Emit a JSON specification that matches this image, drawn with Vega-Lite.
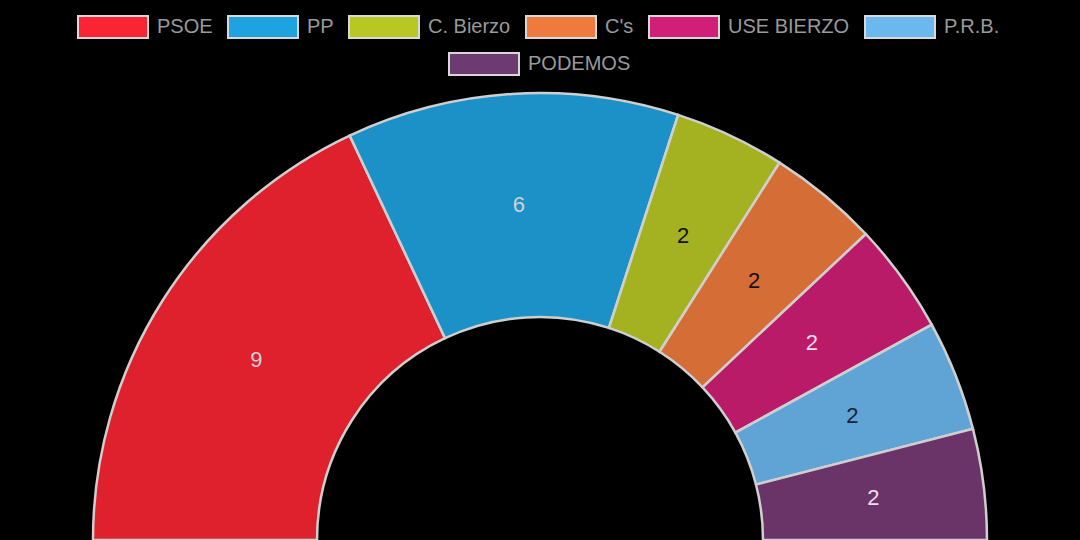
{
  "$schema": "https://vega.github.io/schema/vega-lite/v6.json",
  "width": 1080,
  "height": 540,
  "autosize": "none",
  "padding": 0,
  "background": "#000000",
  "config": {"view": {"stroke": null}},
  "data": {
    "values": [
      {"party": "PSOE", "seats": 9},
      {"party": "PP", "seats": 6},
      {"party": "C. Bierzo", "seats": 2},
      {"party": "C's", "seats": 2},
      {"party": "USE BIERZO", "seats": 2},
      {"party": "P.R.B.", "seats": 2},
      {"party": "PODEMOS", "seats": 2}
    ]
  },
  "transform": [{"window": [{"op": "row_number", "as": "idx"}]}],
  "encoding": {
    "theta": {"field": "seats", "type": "quantitative", "stack": true, "scale": {"range": [-1.5708, 1.5708]}},
    "order": {"field": "idx", "type": "quantitative"}
  },
  "layer": [
    {
      "mark": {"type": "arc", "radius": 447, "radius2": 223, "y": "height", "stroke": "#cfcfcf", "strokeWidth": 2.5, "fillOpacity": 0.89},
      "encoding": {
        "color": {
          "field": "party",
          "type": "nominal",
          "scale": {
            "domain": ["PSOE", "PP", "C. Bierzo", "C's", "USE BIERZO", "P.R.B.", "PODEMOS"],
            "range": ["#fb2432", "#1fa3e0", "#b8c724", "#ef7a3d", "#d11e76", "#6bb8ef", "#783a76"]
          },
          "legend": {
            "title": null,
            "orient": "none",
            "legendX": 77,
            "legendY": -9,
            "direction": "horizontal",
            "padding": 0,
            "values": ["PSOE", "PP", "C. Bierzo", "C's", "USE BIERZO", "P.R.B."],
            "symbolType": "M-1,-0.314H1V0.314H-1Z",
            "symbolSize": 4900,
            "symbolStrokeColor": "#d8d8d8",
            "symbolStrokeWidth": 2,
            "symbolOpacity": 1,
            "labelFont": "Liberation Sans",
            "labelFontSize": 20,
            "labelColor": "#9a9a9a",
            "labelOffset": 8,
            "columnPadding": 11,
            "encode": {
              "symbols": {
                "update": {
                  "fillOpacity": {"value": 1},
                  "stroke": {"value": "#d8d8d8"},
                  "strokeWidth": {"value": 2}
                }
              }
            }
          }
        }
      }
    },
    {
      "mark": {"type": "text", "radius": 336, "y": "height", "font": "Liberation Sans", "fontSize": 22, "strokeWidth": 0},
      "encoding": {
        "text": {"field": "seats", "type": "quantitative"},
        "color": {
          "field": "party",
          "type": "nominal",
          "scale": {
            "domain": ["PSOE", "PP", "C. Bierzo", "C's", "USE BIERZO", "P.R.B.", "PODEMOS"],
            "range": ["#d2d2d2", "#d2d2d2", "#111111", "#111111", "#f2dcec", "#16213a", "#f2dcec"]
          },
          "legend": null
        },
        "stroke": {
          "field": "party",
          "type": "nominal",
          "scale": {
            "domain": ["PODEMOS", "PSOE", "PP", "C. Bierzo", "C's", "USE BIERZO", "P.R.B."],
            "range": ["#d8d8d8", "#d8d8d8", "#d8d8d8", "#d8d8d8", "#d8d8d8", "#d8d8d8", "#d8d8d8"]
          },
          "legend": {
            "title": null,
            "orient": "none",
            "legendX": 448,
            "legendY": 28,
            "direction": "horizontal",
            "padding": 0,
            "values": ["PODEMOS"],
            "symbolType": "M-1,-0.314H1V0.314H-1Z",
            "symbolSize": 4900,
            "symbolFillColor": "#6e3a72",
            "symbolStrokeWidth": 2,
            "symbolOpacity": 1,
            "labelFont": "Liberation Sans",
            "labelFontSize": 20,
            "labelColor": "#9a9a9a",
            "labelOffset": 8,
            "encode": {
              "symbols": {
                "update": {
                  "fillOpacity": {"value": 1},
                  "strokeWidth": {"value": 2}
                }
              }
            }
          }
        }
      }
    }
  ],
  "resolve": {"scale": {"color": "independent", "stroke": "independent"}}
}
